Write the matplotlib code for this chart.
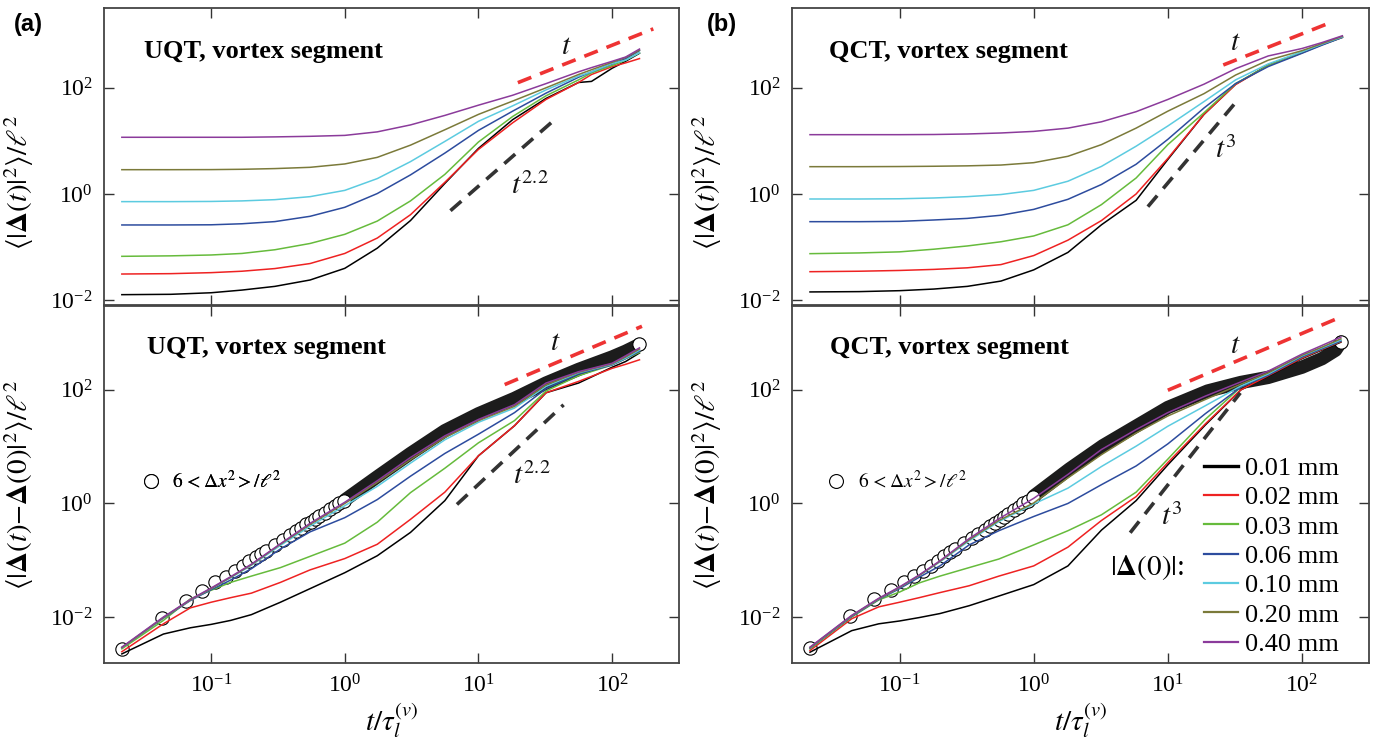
import matplotlib
matplotlib.use("Agg")
import matplotlib.pyplot as plt
from matplotlib.ticker import LogFormatterMathtext, NullLocator, FixedLocator
from matplotlib.lines import Line2D

plt.rcParams["font.family"] = ["Liberation Serif", "DejaVu Serif"]
plt.rcParams["mathtext.fontset"] = "stix"

sizes = ["0.01 mm", "0.02 mm", "0.03 mm", "0.06 mm", "0.10 mm", "0.20 mm", "0.40 mm"]
colors = ["#000000", "#ee2222", "#66bb3c", "#2d4c9e", "#5ccbe0", "#7b7a3a", "#8b3b9b"]

# ---- (a) UQT, <|Delta(t)|^2>/l^2
t_a_top = [0.0215, 0.05, 0.1, 0.17, 0.3, 0.55, 1, 1.75, 3.1, 5.6, 10, 18, 32, 56, 70, 100, 126, 160]
a_top = [
    [0.0127, 0.0129, 0.0138, 0.0155, 0.0182, 0.0240, 0.0398, 0.0955, 0.316, 1.58, 7.24, 25.1, 63.1, 126, 132, 234, 316, 447],
    [0.0311, 0.0316, 0.0330, 0.0351, 0.0394, 0.0490, 0.0759, 0.148, 0.407, 1.66, 6.92, 21.9, 60.3, 126, 178, 251, 295, 355],
    [0.0670, 0.0684, 0.0710, 0.0759, 0.0891, 0.117, 0.174, 0.309, 0.741, 2.34, 9.55, 28.8, 70.8, 141, 191, 263, 331, 457],
    [0.261, 0.261, 0.263, 0.275, 0.302, 0.380, 0.562, 1.02, 2.29, 5.89, 15.8, 36.3, 79.4, 158, 200, 282, 355, 501],
    [0.718, 0.718, 0.724, 0.741, 0.782, 0.891, 1.17, 1.95, 4.07, 9.77, 23.4, 45.7, 91.2, 166, 200, 288, 331, 457],
    [2.87, 2.87, 2.88, 2.92, 3.01, 3.18, 3.68, 4.90, 8.32, 16.2, 31.6, 56.2, 100, 178, 219, 302, 372, 513],
    [11.7, 11.7, 11.7, 11.7, 11.9, 12.2, 12.7, 14.8, 20.0, 30.2, 47.1, 72.4, 120, 200, 240, 316, 380, 537],
]

# ---- (a) UQT, <|Delta(t)-Delta(0)|^2>/l^2
t_a_bot = [0.0215, 0.044, 0.07, 0.1, 0.14, 0.2, 0.33, 0.55, 1, 1.75, 3.1, 5.6, 10, 18.6, 32, 56, 100, 126, 160]
a_bot = [
    [0.00224, 0.00501, 0.00646, 0.00741, 0.00871, 0.0110, 0.0182, 0.0316, 0.0603, 0.120, 0.309, 1.12, 6.92, 23.4, 89.1, 132, 251, 316, 447],
    [0.00245, 0.00759, 0.0145, 0.0182, 0.0219, 0.0263, 0.0407, 0.0676, 0.107, 0.191, 0.525, 1.58, 6.92, 23.4, 89.1, 141, 240, 282, 339],
    [0.00275, 0.00871, 0.0209, 0.0295, 0.0407, 0.0525, 0.0741, 0.117, 0.200, 0.468, 1.55, 4.17, 11.7, 28.8, 95.5, 178, 275, 355, 457],
    [0.00288, 0.00955, 0.0195, 0.0302, 0.0447, 0.0708, 0.158, 0.316, 0.562, 1.17, 3.02, 7.59, 16.6, 39.8, 105, 191, 275, 355, 479],
    [0.00288, 0.00977, 0.0200, 0.0316, 0.0490, 0.0813, 0.182, 0.398, 0.912, 2.00, 5.13, 13.2, 26.9, 47.9, 115, 200, 282, 363, 501],
    [0.00288, 0.00977, 0.0200, 0.0316, 0.0501, 0.0832, 0.191, 0.427, 1.00, 2.34, 5.89, 14.5, 28.8, 51.3, 123, 204, 288, 380, 525],
    [0.00295, 0.0100, 0.0204, 0.0324, 0.0513, 0.0851, 0.195, 0.447, 1.05, 2.51, 6.46, 15.5, 30.2, 55.0, 132, 209, 295, 398, 550],
]

# ---- (b) QCT, <|Delta(t)|^2>/l^2
t_b_top = [0.0215, 0.05, 0.1, 0.18, 0.32, 0.57, 1, 1.8, 3.2, 5.8, 10, 18.6, 32, 56, 100, 140, 200]
b_top = [
    [0.0143, 0.0145, 0.0151, 0.0162, 0.0182, 0.0229, 0.0372, 0.0794, 0.263, 0.759, 4.47, 31.6, 117, 269, 468, 661, 912],
    [0.0344, 0.0351, 0.0363, 0.0380, 0.0407, 0.0468, 0.0692, 0.135, 0.316, 1.00, 4.68, 31.6, 115, 263, 457, 646, 891],
    [0.0752, 0.0776, 0.0813, 0.0912, 0.105, 0.126, 0.162, 0.263, 0.631, 2.00, 8.51, 33.9, 120, 263, 457, 646, 891],
    [0.301, 0.301, 0.305, 0.324, 0.347, 0.398, 0.513, 0.794, 1.51, 3.63, 10.7, 41.7, 120, 251, 447, 631, 891],
    [0.805, 0.805, 0.813, 0.841, 0.891, 0.977, 1.17, 1.74, 3.31, 7.94, 19.1, 55.0, 141, 282, 479, 661, 912],
    [3.27, 3.27, 3.29, 3.33, 3.39, 3.51, 3.89, 5.13, 8.51, 17.4, 36.3, 77.6, 174, 331, 501, 676, 933],
    [13.1, 13.1, 13.1, 13.2, 13.5, 14.1, 15.1, 17.4, 22.9, 35.5, 60.3, 117, 229, 398, 550, 708, 955],
]

# ---- (b) QCT, <|Delta(t)-Delta(0)|^2>/l^2
t_b_bot = [0.0215, 0.044, 0.07, 0.1, 0.14, 0.2, 0.33, 0.55, 1, 1.8, 3.2, 5.8, 10, 19, 35, 56, 100, 140, 195]
b_bot = [
    [0.00240, 0.00575, 0.00759, 0.00851, 0.00977, 0.0115, 0.0158, 0.0234, 0.0372, 0.0794, 0.339, 1.12, 4.79, 24.0, 100, 174, 355, 501, 692],
    [0.00257, 0.00933, 0.0151, 0.0182, 0.0219, 0.0269, 0.0355, 0.0525, 0.0794, 0.170, 0.501, 1.32, 5.25, 25.1, 100, 178, 363, 513, 708],
    [0.00275, 0.0100, 0.0200, 0.0275, 0.0398, 0.0525, 0.0741, 0.105, 0.186, 0.331, 0.631, 1.58, 6.03, 30.2, 112, 186, 380, 525, 724],
    [0.00282, 0.0102, 0.0204, 0.0316, 0.0501, 0.0794, 0.186, 0.331, 0.589, 1.00, 2.14, 4.57, 11.2, 38.0, 112, 182, 380, 525, 724],
    [0.00288, 0.0105, 0.0209, 0.0331, 0.0537, 0.0933, 0.219, 0.479, 0.977, 1.86, 4.47, 10.2, 22.9, 52.5, 117, 191, 398, 550, 759],
    [0.00288, 0.0105, 0.0209, 0.0331, 0.0537, 0.0955, 0.229, 0.501, 1.02, 2.82, 7.24, 17.4, 34.7, 67.6, 126, 200, 407, 562, 794],
    [0.00295, 0.0107, 0.0214, 0.0339, 0.0550, 0.0977, 0.240, 0.537, 1.23, 3.24, 8.91, 20.0, 39.8, 77.6, 138, 214, 427, 603, 851],
]

# 6<dx^2>/l^2 : separate samples at early times, a dense run afterwards
circ_t = [0.0215, 0.043, 0.0645, 0.086, 0.1075, 0.129, 0.1505, 0.172, 0.1935, 0.215, 0.2365, 0.258,
          0.301, 0.344, 0.387, 0.43, 0.473, 0.516, 0.559, 0.602, 0.645, 0.7095, 0.774, 0.8385, 0.903, 0.989]
circ_a = [0.00274, 0.00948, 0.0194, 0.0290, 0.0407, 0.0499, 0.0653, 0.0800, 0.0955, 0.112, 0.129, 0.148,
          0.186, 0.229, 0.275, 0.324, 0.372, 0.427, 0.479, 0.537, 0.603, 0.692, 0.794, 0.891, 1.00, 1.12]
circ_b = [0.00281, 0.0103, 0.0207, 0.0303, 0.0407, 0.0520, 0.0653, 0.0800, 0.0977, 0.117, 0.138, 0.158,
          0.200, 0.245, 0.295, 0.347, 0.398, 0.457, 0.513, 0.575, 0.646, 0.759, 0.871, 1.00, 1.12, 1.32]
dense_t_a = [1.0, 1.75, 3.1, 5.6, 10, 18.6, 32, 56, 100, 126, 160]
dense_a = [1.15, 2.95, 7.59, 19.1, 38.0, 70.8, 132, 229, 380, 479, 631]
dense_t_b = [1.0, 1.84, 3.28, 5.86, 10, 19.8, 35, 56, 100, 141, 178, 195]
dense_b = [1.35, 4.02, 10.4, 23.3, 49.0, 95.5, 135, 166, 251, 355, 501, 692]

# guide power laws: (t_start, t_end, value at t_start, exponent)
guides = {
    "a_top": [(19.7, 203, 125, 1.0), (6.17, 37.8, 0.485, 2.2)],
    "a_bot": [(15.7, 167, 124, 1.0), (6.9, 43.3, 0.96, 2.2)],
    "b_top": [(25.9, 168, 269, 1.0), (7.1, 33.9, 0.577, 3.0)],
    "b_bot": [(10.0, 203, 98.6, 1.0), (5.24, 34.7, 0.305, 3.0)],
}
guide_colors = ["#ee3333", "#333333"]

fig = plt.figure(figsize=(13.77, 7.44), dpi=100)
ax_at = fig.add_axes([0.0755, 0.590, 0.4176, 0.399])
ax_ab = fig.add_axes([0.0755, 0.1089, 0.4176, 0.480])
ax_bt = fig.add_axes([0.5752, 0.590, 0.419, 0.399])
ax_bb = fig.add_axes([0.5752, 0.1089, 0.419, 0.480])

ylab_top = r"$\left\langle|\mathbf{\Delta}(t)|^2\right\rangle/\ell^2$"
ylab_bot = r"$\left\langle|\mathbf{\Delta}(t)\mathrm{-}\mathbf{\Delta}(0)|^2\right\rangle/\ell^2$"


def style(ax, top):
    ax.set_xscale("log")
    ax.set_yscale("log")
    ax.set_xlim(0.0158, 316)
    if top:
        ax.set_ylim(0.0081, 3160)
    else:
        ax.set_ylim(0.00155, 3020)
    ax.xaxis.set_major_locator(FixedLocator([0.1, 1, 10, 100]))
    ax.yaxis.set_major_locator(FixedLocator([0.01, 1, 100]))
    ax.xaxis.set_minor_locator(NullLocator())
    ax.yaxis.set_minor_locator(NullLocator())
    ax.xaxis.set_major_formatter(LogFormatterMathtext())
    ax.yaxis.set_major_formatter(LogFormatterMathtext())
    ax.tick_params(which="both", direction="in", length=7, width=1.0, top=True, right=True,
                   labelsize=17, pad=8, color="#333333")
    if top:
        ax.tick_params(labelbottom=False)
    for s in ax.spines.values():
        s.set_linewidth(1.3)
        s.set_color("#444444")


def draw_lines(ax, t, curves):
    for y, c, lab in zip(curves, colors, sizes):
        ax.plot(t, y, color=c, lw=1.1, label=lab, zorder=4)


def draw_guides(ax, key):
    for (t0, t1, y0, p), c in zip(guides[key], guide_colors):
        ax.plot([t0, t1], [y0, y0 * (t1 / t0) ** p], color=c, lw=2.6,
                dashes=(4, 2.6), zorder=5)


def draw_circles(ax, ct, cy, dt, dy):
    ax.plot(dt, dy, color="#1c1c1c", lw=9.6, solid_capstyle="round", zorder=2)
    ax.plot(ct, cy, "o", ms=9.6, mfc="white", mec="black", mew=0.8, zorder=3)
    ax.plot(dt[-1:], dy[-1:], "o", ms=9.6, mfc="white", mec="black", mew=0.8, zorder=3)


for ax in (ax_at, ax_bt):
    style(ax, True)
for ax in (ax_ab, ax_bb):
    style(ax, False)

draw_lines(ax_at, t_a_top, a_top)
draw_guides(ax_at, "a_top")
draw_lines(ax_bt, t_b_top, b_top)
draw_guides(ax_bt, "b_top")

draw_circles(ax_ab, circ_t, circ_a, dense_t_a, dense_a)
draw_lines(ax_ab, t_a_bot, a_bot)
draw_guides(ax_ab, "a_bot")
draw_circles(ax_bb, circ_t, circ_b, dense_t_b, dense_b)
draw_lines(ax_bb, t_b_bot, b_bot)
draw_guides(ax_bb, "b_bot")

# power-law labels
lab_kw = dict(fontsize=21, color="#111111")
ax_at.text(45.7, 596, r"$t$", ha="center", va="center", **lab_kw)
ax_at.text(17.6, 1.38, r"$t^{2.2}$", ha="left", va="center", **lab_kw)
ax_ab.text(37.7, 676, r"$t$", ha="center", va="center", **lab_kw)
ax_ab.text(18.2, 3.0, r"$t^{2.2}$", ha="left", va="center", **lab_kw)
ax_bt.text(32.1, 692, r"$t$", ha="center", va="center", **lab_kw)
ax_bt.text(22.3, 6.76, r"$t^{3}$", ha="left", va="center", **lab_kw)
ax_bb.text(32.1, 589, r"$t$", ha="center", va="center", **lab_kw)
ax_bb.text(8.9, 0.58, r"$t^{3}$", ha="left", va="center", **lab_kw)

# panel titles
title_kw = dict(fontsize=19, fontweight="bold", ha="left", va="center")
ax_at.text(0.07, 0.855, "UQT, vortex segment", transform=ax_at.transAxes, **title_kw)
ax_ab.text(0.075, 0.882, "UQT, vortex segment", transform=ax_ab.transAxes, **title_kw)
ax_bt.text(0.064, 0.855, "QCT, vortex segment", transform=ax_bt.transAxes, **title_kw)
ax_bb.text(0.066, 0.882, "QCT, vortex segment", transform=ax_bb.transAxes, **title_kw)

# axis labels
for ax in (ax_at, ax_bt):
    ax.set_ylabel(ylab_top, fontsize=21)
    ax.yaxis.set_label_coords(-0.118, 0.414)
for ax in (ax_ab, ax_bb):
    ax.set_ylabel(ylab_bot, fontsize=21)
    ax.yaxis.set_label_coords(-0.118, 0.5)
    ax.set_xlabel(r"$t/\tau_l^{(v)}$", fontsize=21, labelpad=2)

fig.text(28 / 1377, 1 - 24 / 744, "(a)", fontsize=17, fontweight="bold",
         family="Liberation Sans", ha="center", va="center")
fig.text(722 / 1377, 1 - 24 / 744, "(b)", fontsize=17, fontweight="bold",
         family="Liberation Sans", ha="center", va="center")

# legends
circ_handle = Line2D([], [], ls="none", marker="o", ms=10, mfc="white", mec="black", mew=0.8)
circ_label = r"$6\,{<}\Delta x^2{>}/\ell^2$"
for ax, x0 in ((ax_ab, 0.065), (ax_bb, 0.06)):
    lg = ax.legend([circ_handle], [circ_label], loc="center left", bbox_to_anchor=(x0, 0.51),
                   frameon=False, fontsize=14, handlelength=1.0, handletextpad=0.6,
                   borderpad=0, borderaxespad=0)
    ax.add_artist(lg)

lines = ax_bb.get_lines()[-9:-2]
leg = ax_bb.legend(handles=lines, labels=sizes, loc="lower right", bbox_to_anchor=(0.948, 0.02),
                   frameon=False, fontsize=19, handlelength=1.3, handletextpad=0.25,
                   labelspacing=0.22, borderpad=0, borderaxespad=0)
for i, h in enumerate(leg.get_lines()):
    h.set_linewidth(2.4 if i == 0 else 1.6)
ax_bb.text(0.615, 0.266, r"$|\mathbf{\Delta}(0)|$:", transform=ax_bb.transAxes,
           fontsize=21, ha="center", va="center")

fig.savefig("out.png", dpi=100)
